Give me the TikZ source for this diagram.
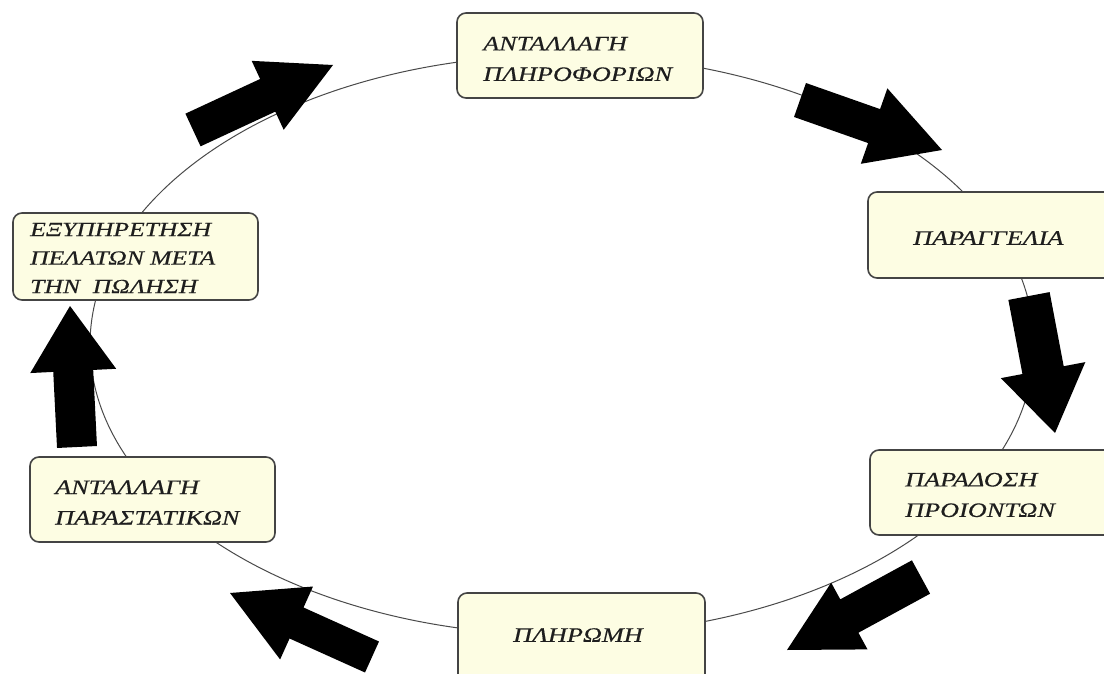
\documentclass[tikz,border=0pt]{standalone}
\usepackage{fontspec}
\setmainfont{Liberation Serif}
\newfontfamily\boxfont[FakeStretch=1.28,FakeBold=0.4]{Liberation Serif}
\usetikzlibrary{calc}
\definecolor{boxfill}{HTML}{FDFDE3}
\definecolor{boxline}{HTML}{444444}
\definecolor{ringline}{HTML}{4A4A4A}
\definecolor{txtcol}{HTML}{1E1E1E}
\tikzset{
  stagebox/.style={draw=boxline, line width=1.6pt, fill=boxfill, rounded corners=9pt, inner sep=0pt},
  stagetext/.style={anchor=west, align=left, inner sep=0pt, text=txtcol,
    font=\boxfont\itshape\fontsize{20.5}{30.5}\selectfont},
  ring/.style={draw=ringline, line width=1pt},
}
\newcommand\blockarrow[5]{%
  \coordinate (hb) at ($(#2)!#5!(#1)$);
  \fill[black] ($(#1)!#3!90:(#2)$) -- ($(hb)!#3!90:(#2)$) -- ($(hb)!#4!90:(#2)$) -- (#2)
    -- ($(hb)!#4!-90:(#2)$) -- ($(hb)!#3!-90:(#2)$) -- ($(#1)!#3!-90:(#2)$) -- cycle;}
\begin{document}
\begin{tikzpicture}[x=1pt,y=-1pt]
\clip (0,0) rectangle (1104,674);
\fill[white] (0,0) rectangle (1104,674);
% ring
\coordinate (c) at (562,345);
\draw[ring] (c) ellipse [x radius=472, y radius=290];
% boxes
\node[stagebox, minimum width=246, minimum height=85] (b1) at (580,55.5) {};
\node[stagebox, minimum width=252, minimum height=86] (b2) at (994,235) {};
\node[stagebox, minimum width=250, minimum height=85] (b3) at (995,492.5) {};
\node[stagebox, minimum width=247, minimum height=97] (b4) at (581.5,641.5) {};
\node[stagebox, minimum width=245, minimum height=85] (b5) at (152.5,499.5) {};
\node[stagebox, minimum width=245, minimum height=87] (b6) at (135.5,256.5) {};
% texts
\node[stagetext] (t1) at (483,59) {ΑΝΤΑΛΛΑΓΗ\\ΠΛΗΡΟΦΟΡΙΩΝ};
\node[stagetext] (t2) at (913,238) {ΠΑΡΑΓΓΕΛΙΑ};
\node[stagetext] (t3) at (905,495) {ΠΑΡΑΔΟΣΗ\\ΠΡΟΙΟΝΤΩΝ};
\node[stagetext] (t4) at (513,635) {ΠΛΗΡΩΜΗ};
\node[stagetext] (t5) at (55,502.5) {ΑΝΤΑΛΛΑΓΗ\\ΠΑΡΑΣΤΑΤΙΚΩΝ};
\node[stagetext, font=\boxfont\itshape\fontsize{20}{28.5}\selectfont] (t6) at (30,258) {ΕΞΥΠΗΡΕΤΗΣΗ\\ΠΕΛΑΤΩΝ ΜΕΤΑ\\ΤΗΝ\ \ ΠΩΛΗΣΗ};
% block arrows
\coordinate (a1t) at (193,130); \coordinate (a1p) at (333,65);
\coordinate (a2t) at (800,100); \coordinate (a2p) at (942,150);
\coordinate (a3t) at (1029,296); \coordinate (a3p) at (1055,433);
\coordinate (a4t) at (921,577); \coordinate (a4p) at (787,650);
\coordinate (a5t) at (372,657); \coordinate (a5p) at (230,593);
\coordinate (a6t) at (77,447); \coordinate (a6p) at (70,306);
\blockarrow{a1t}{a1p}{18pt}{38pt}{72pt}
\blockarrow{a2t}{a2p}{18pt}{40pt}{72pt}
\blockarrow{a3t}{a3p}{21pt}{43pt}{64pt}
\blockarrow{a4t}{a4p}{19pt}{38pt}{71pt}
\blockarrow{a5t}{a5p}{17pt}{40pt}{73pt}
\blockarrow{a6t}{a6p}{20pt}{43pt}{65pt}
\end{tikzpicture}
\end{document}
